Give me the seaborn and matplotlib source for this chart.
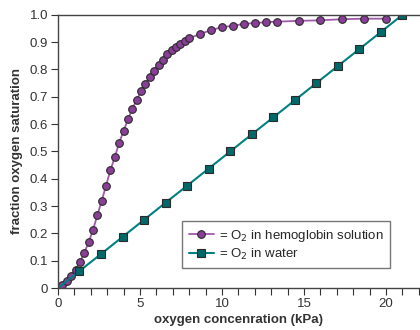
import numpy as np
import pandas as pd
import matplotlib.pyplot as plt
import seaborn as sns


# ==========================================
# Data
# ==========================================

hb_kpa = [
    0, 0.27, 0.53, 0.8, 1.07, 1.33, 1.6, 1.87, 2.13, 2.4, 2.67,
    2.93, 3.2, 3.47, 3.73, 4.0, 4.27, 4.53, 4.8, 5.07, 5.33,
    5.6, 5.87, 6.13, 6.4, 6.67, 6.93, 7.2, 7.47, 7.73, 8.0,
    8.67, 9.33, 10.0, 10.67, 11.33, 12.0, 12.67, 13.33,
    14.67, 16.0, 17.33, 18.67, 20.0,
]

hb_sat = [
    0, 0.01, 0.027, 0.044, 0.068, 0.094, 0.128, 0.168, 0.212, 0.266, 0.32,
    0.375, 0.432, 0.48, 0.532, 0.575, 0.619, 0.655, 0.689, 0.721, 0.747,
    0.773, 0.796, 0.817, 0.836, 0.855, 0.871, 0.883, 0.895, 0.906, 0.914,
    0.93, 0.944, 0.955, 0.96, 0.967, 0.97, 0.973, 0.975,
    0.978, 0.98, 0.984, 0.986, 0.986,
]

water_kpa = [
    0, 1.31, 2.63, 3.94, 5.25, 6.56, 7.88, 9.19, 10.5, 11.81,
    13.13, 14.44, 15.75, 17.06, 18.38, 19.69, 21.0,
]

water_sat = [
    0, 0.0625, 0.125, 0.1875, 0.25, 0.3125, 0.375, 0.4375, 0.5, 0.5625,
    0.625, 0.6875, 0.75, 0.8125, 0.875, 0.9375, 1.0,
]

hb = pd.DataFrame({"kpa": hb_kpa, "sat": hb_sat})
water = pd.DataFrame({"kpa": water_kpa, "sat": water_sat})


# ==========================================
# Style
# ==========================================

sns.set_style("ticks")
plt.rcParams["font.family"] = ["Liberation Sans", "DejaVu Sans"]
plt.rcParams["font.size"] = 9.5

fig = plt.figure(figsize=(4.2, 3.3), dpi=100)
ax = fig.add_axes([0.138, 0.127, 0.862, 0.828])


# ==========================================
# Curves
# ==========================================

sns.lineplot(
    data=hb,
    x="kpa",
    y="sat",
    ax=ax,
    color="#a05aab",
    linewidth=1.3,
    marker="o",
    markersize=5.5,
    markerfacecolor="#8a3f97",
    markeredgecolor="#2a2a2a",
    markeredgewidth=0.8,
    label="= O$_2$ in hemoglobin solution",
)

sns.lineplot(
    data=water,
    x="kpa",
    y="sat",
    ax=ax,
    color="#008080",
    linewidth=1.5,
    marker="s",
    markersize=5.2,
    markerfacecolor="#006868",
    markeredgecolor="#2a2a2a",
    markeredgewidth=0.8,
    markevery=slice(1, None),
    label="= O$_2$ in water",
)


# ==========================================
# Axes
# ==========================================

ax.set_xlim(0, 22.07)
ax.set_ylim(0, 1.0)

ax.set_xticks([0, 5, 10, 15, 20])
ax.set_xticks(np.arange(0, 23, 1), minor=True)
ax.set_yticks(np.arange(0, 1.01, 0.1))
ax.set_yticklabels(["0"] + [f"{v:.1f}" for v in np.arange(0.1, 1.01, 0.1)])

ax.tick_params(axis="both", which="both", direction="out", length=5,
               width=0.8, colors="#333333", labelsize=9.5, pad=2)

for side in ["left", "bottom", "top"]:
    ax.spines[side].set_color("#444444")
    ax.spines[side].set_linewidth(1.0)
ax.spines["right"].set_visible(False)

ax.set_xlabel("oxygen concenration (kPa)", fontweight="bold",
              fontsize=9.5, color="#333333", labelpad=3)
ax.set_ylabel("fraction oxygen saturation", fontweight="bold",
              fontsize=9.5, color="#333333", labelpad=5)

leg = ax.legend(
    loc="lower left",
    bbox_to_anchor=(0.343, 0.073),
    frameon=True,
    fancybox=False,
    edgecolor="#555555",
    fontsize=9.5,
    handlelength=1.9,
    borderpad=0.5,
    borderaxespad=0,
    labelspacing=0.2,
    handletextpad=0.4,
    numpoints=1,
)
leg.get_frame().set_linewidth(1.0)

fig.savefig("out.png", dpi=100)
